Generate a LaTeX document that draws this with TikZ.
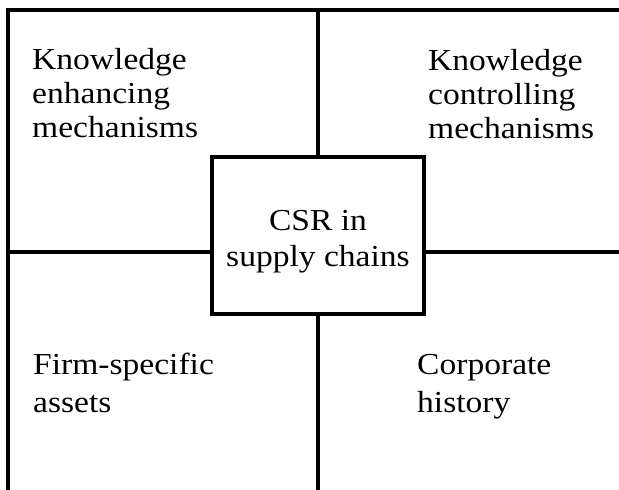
\documentclass[tikz,border=0pt]{standalone}
\usepackage{fontspec}
\setmainfont{Liberation Serif}
\newfontfamily\quadfont[FakeStretch=1.1]{Liberation Serif}
\usetikzlibrary{positioning}

\begin{document}
\begin{tikzpicture}[x=1pt, y=-1pt,
    frame/.style={line width=3.4pt, line join=miter},
    quad/.style={align=left, inner sep=0pt, anchor=base west,
      font=\quadfont\fontsize{30.5}{34}\selectfont},
    core/.style={draw, line width=3.4pt, minimum width=212pt,
      minimum height=157pt, inner sep=0pt},
    coretext/.style={align=center, inner sep=0pt,
      font=\quadfont\fontsize{30.5}{36}\selectfont}]
  \useasboundingbox (0,0) rectangle (619,490);
  % open frame and ends of the cross
  \coordinate (tl) at (8,10);
  \coordinate (tr) at (619,10);
  \coordinate (bl) at (8,490);
  \coordinate (tm) at (318,10);
  \coordinate (bm) at (318,490);
  \coordinate (ml) at (8,252);
  \coordinate (mr) at (619,252);
  % the centre box
  \node[core] (csr) at (318,235.5) {};
  \node[coretext] (csrtext) at ([yshift=-6pt]csr.center) {CSR in\\supply chains};
  \draw[frame] (bl) -- (tl) -- (tr);
  \draw[frame] (tm) -- (csr.north);
  \draw[frame] (csr.south) -- (bm);
  \draw[frame] (ml) -- (ml -| csr.west);
  \draw[frame] (mr -| csr.east) -- (mr);
  % the four quadrants (base = last line)
  \node[quad] (enhance) at (32,137) {Knowledge\\enhancing\\mechanisms};
  \node[quad] (control) at (428,138) {Knowledge\\controlling\\mechanisms};
  \node[quad, font=\quadfont\fontsize{30.5}{38}\selectfont] (assets) at (33,412) {Firm-specific\\assets};
  \node[quad, font=\quadfont\fontsize{30.5}{38}\selectfont] (history) at (417,412) {Corporate\\history};
\end{tikzpicture}
\end{document}
